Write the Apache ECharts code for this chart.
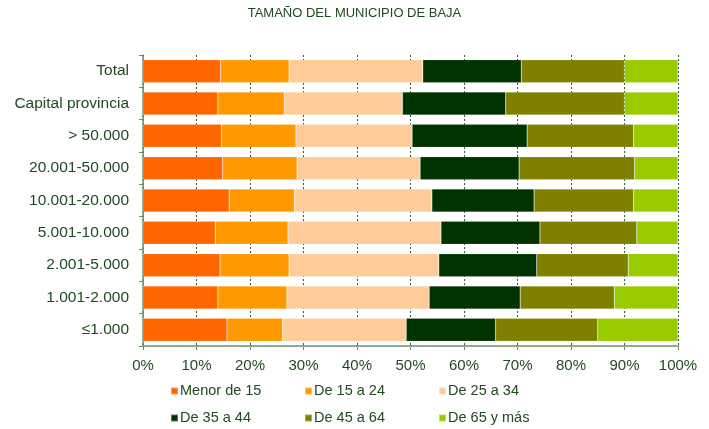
<!DOCTYPE html>
<html>
<head>
<meta charset="utf-8">
<script src="https://cdn.jsdelivr.net/npm/echarts@6/dist/echarts.min.js"></script>
<style>
  html, body { margin: 0; padding: 0; background: #fff; }
  #main { width: 709px; height: 429px; }
</style>
</head>
<body>
<div id="main"></div>
<script>
// categorías (de arriba a abajo)
let categories = ['Total', 'Capital provincia', '> 50.000', '20.001-50.000', '10.001-20.000',
  '5.001-10.000', '2.001-5.000', '1.001-2.000', '≤1.000']

let seriesNames = ['Menor de 15', 'De 15 a 24', 'De 25 a 34', 'De 35 a 44', 'De 45 a 64', 'De 65 y más']
let colors = ['#FF6600', '#FF9900', '#FFCC99', '#003300', '#808000', '#99CC00']

// porcentajes
let menor15 = [14.5, 14.0, 14.7, 14.9, 16.1, 13.5, 14.4, 14.0, 15.7]
let de15a24 = [12.8, 12.4, 13.9, 13.9, 12.2, 13.6, 12.9, 12.9, 10.4]
let de25a34 = [25.0, 22.1, 21.7, 23.0, 25.7, 28.6, 28.0, 26.6, 23.1]
let de35a44 = [18.4, 19.3, 21.5, 18.5, 19.1, 18.5, 18.3, 17.0, 16.7]
let de45a64 = [19.3, 22.2, 19.9, 21.6, 18.6, 18.1, 17.1, 17.6, 19.1]
let de65 = [10.0, 10.0, 8.3, 8.1, 8.3, 7.7, 9.3, 11.9, 15.0]

let values = [menor15, de15a24, de25a34, de35a44, de45a64, de65]
let txt = '#1F4A1F'
let axisCol = '#6E8C6E'

let myChart = echarts.init(document.getElementById('main'))

let series = seriesNames.map((name, i) => ({
  name: name,
  type: 'bar',
  stack: 'total',
  barWidth: 23,
  data: values[i],
  itemStyle: { color: colors[i], borderColor: 'rgba(255,255,255,0.35)', borderWidth: 0.5 }
}))

// una leyenda por elemento, en dos filas de tres columnas
let legendLeft = [170, 304, 438]
let legendTop = [383.5, 410.5]
let legends = seriesNames.map((name, i) => ({
  data: [name],
  left: legendLeft[i % 3],
  top: legendTop[Math.floor(i / 3)],
  padding: 0,
  itemWidth: 7,
  itemHeight: 7,
  icon: 'rect',
  textStyle: { color: txt, fontSize: 14.5, lineHeight: 15, fontFamily: 'Liberation Sans', padding: [0, 0, 0, -3] }
}))

let option = {
  animation: false,
  title: {
    text: 'TAMAÑO DEL MUNICIPIO DE BAJA',
    left: 'center',
    top: 2,
    textStyle: { color: txt, fontSize: 13, fontWeight: 'normal', fontFamily: 'Liberation Sans' }
  },
  legend: legends,
  grid: { left: 143, right: 31, top: 55, height: 291, containLabel: false },
  xAxis: {
    type: 'value',
    min: 0,
    max: 100,
    interval: 10,
    axisLine: { show: true, lineStyle: { color: axisCol, width: 1.5 } },
    axisTick: { show: true, length: 4, lineStyle: { color: axisCol } },
    axisLabel: { formatter: '{value}%', color: txt, fontSize: 15, fontFamily: 'Liberation Sans', margin: 12 },
    splitLine: { show: true, lineStyle: { color: '#2F5A2F', type: [2, 2], width: 1 } }
  },
  yAxis: {
    type: 'category',
    inverse: true,
    data: categories,
    axisLine: { show: true, lineStyle: { color: axisCol, width: 1.5 } },
    axisTick: { show: true, length: 4, lineStyle: { color: axisCol } },
    axisLabel: { color: txt, fontSize: 15.5, fontFamily: 'Liberation Sans', margin: 14 }
  },
  series: series
}

myChart.setOption(option)
</script>
</body>
</html>
